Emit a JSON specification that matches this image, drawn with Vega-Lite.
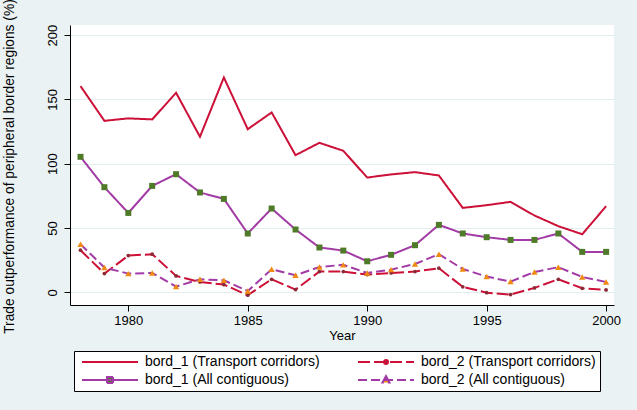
{
  "$schema": "https://vega.github.io/schema/vega-lite/v6.json",
  "width": 544,
  "height": 280,
  "autosize": {"type": "none"},
  "padding": {"left": 70, "top": 25, "right": 23, "bottom": 105},
  "background": "#eaf2f3",
  "config": {"view": {"fill": "white", "stroke": null}, "font": "Liberation Sans"},
  "data": {"values": [
    {"year":1978,"series":"bord_1 (Transport corridors)","value":160.3},
    {"year":1979,"series":"bord_1 (Transport corridors)","value":133.3},
    {"year":1980,"series":"bord_1 (Transport corridors)","value":135.2},
    {"year":1981,"series":"bord_1 (Transport corridors)","value":134.4},
    {"year":1982,"series":"bord_1 (Transport corridors)","value":155.1},
    {"year":1983,"series":"bord_1 (Transport corridors)","value":120.9},
    {"year":1984,"series":"bord_1 (Transport corridors)","value":167.0},
    {"year":1985,"series":"bord_1 (Transport corridors)","value":126.8},
    {"year":1986,"series":"bord_1 (Transport corridors)","value":139.8},
    {"year":1987,"series":"bord_1 (Transport corridors)","value":106.6},
    {"year":1988,"series":"bord_1 (Transport corridors)","value":116.2},
    {"year":1989,"series":"bord_1 (Transport corridors)","value":110.0},
    {"year":1990,"series":"bord_1 (Transport corridors)","value":89.2},
    {"year":1991,"series":"bord_1 (Transport corridors)","value":91.6},
    {"year":1992,"series":"bord_1 (Transport corridors)","value":93.4},
    {"year":1993,"series":"bord_1 (Transport corridors)","value":90.8},
    {"year":1994,"series":"bord_1 (Transport corridors)","value":65.6},
    {"year":1995,"series":"bord_1 (Transport corridors)","value":67.7},
    {"year":1996,"series":"bord_1 (Transport corridors)","value":70.3},
    {"year":1997,"series":"bord_1 (Transport corridors)","value":59.7},
    {"year":1998,"series":"bord_1 (Transport corridors)","value":51.4},
    {"year":1999,"series":"bord_1 (Transport corridors)","value":45.1},
    {"year":2000,"series":"bord_1 (Transport corridors)","value":66.9},
    {"year":1978,"series":"bord_2 (Transport corridors)","value":32.7},
    {"year":1979,"series":"bord_2 (Transport corridors)","value":14.5},
    {"year":1980,"series":"bord_2 (Transport corridors)","value":28.5},
    {"year":1981,"series":"bord_2 (Transport corridors)","value":29.6},
    {"year":1982,"series":"bord_2 (Transport corridors)","value":12.7},
    {"year":1983,"series":"bord_2 (Transport corridors)","value":8.0},
    {"year":1984,"series":"bord_2 (Transport corridors)","value":6.0},
    {"year":1985,"series":"bord_2 (Transport corridors)","value":-2.3},
    {"year":1986,"series":"bord_2 (Transport corridors)","value":10.1},
    {"year":1987,"series":"bord_2 (Transport corridors)","value":2.1},
    {"year":1988,"series":"bord_2 (Transport corridors)","value":16.1},
    {"year":1989,"series":"bord_2 (Transport corridors)","value":16.1},
    {"year":1990,"series":"bord_2 (Transport corridors)","value":13.8},
    {"year":1991,"series":"bord_2 (Transport corridors)","value":15.0},
    {"year":1992,"series":"bord_2 (Transport corridors)","value":16.1},
    {"year":1993,"series":"bord_2 (Transport corridors)","value":18.7},
    {"year":1994,"series":"bord_2 (Transport corridors)","value":4.2},
    {"year":1995,"series":"bord_2 (Transport corridors)","value":-0.3},
    {"year":1996,"series":"bord_2 (Transport corridors)","value":-1.8},
    {"year":1997,"series":"bord_2 (Transport corridors)","value":3.4},
    {"year":1998,"series":"bord_2 (Transport corridors)","value":10.1},
    {"year":1999,"series":"bord_2 (Transport corridors)","value":3.1},
    {"year":2000,"series":"bord_2 (Transport corridors)","value":1.8},
    {"year":1978,"series":"bord_1 (All contiguous)","value":105.3},
    {"year":1979,"series":"bord_1 (All contiguous)","value":81.7},
    {"year":1980,"series":"bord_1 (All contiguous)","value":61.7},
    {"year":1981,"series":"bord_1 (All contiguous)","value":82.7},
    {"year":1982,"series":"bord_1 (All contiguous)","value":91.8},
    {"year":1983,"series":"bord_1 (All contiguous)","value":77.6},
    {"year":1984,"series":"bord_1 (All contiguous)","value":72.6},
    {"year":1985,"series":"bord_1 (All contiguous)","value":45.7},
    {"year":1986,"series":"bord_1 (All contiguous)","value":65.1},
    {"year":1987,"series":"bord_1 (All contiguous)","value":48.8},
    {"year":1988,"series":"bord_1 (All contiguous)","value":34.8},
    {"year":1989,"series":"bord_1 (All contiguous)","value":32.4},
    {"year":1990,"series":"bord_1 (All contiguous)","value":24.1},
    {"year":1991,"series":"bord_1 (All contiguous)","value":29.1},
    {"year":1992,"series":"bord_1 (All contiguous)","value":36.6},
    {"year":1993,"series":"bord_1 (All contiguous)","value":52.4},
    {"year":1994,"series":"bord_1 (All contiguous)","value":45.7},
    {"year":1995,"series":"bord_1 (All contiguous)","value":42.8},
    {"year":1996,"series":"bord_1 (All contiguous)","value":40.7},
    {"year":1997,"series":"bord_1 (All contiguous)","value":40.7},
    {"year":1998,"series":"bord_1 (All contiguous)","value":45.7},
    {"year":1999,"series":"bord_1 (All contiguous)","value":31.4},
    {"year":2000,"series":"bord_1 (All contiguous)","value":31.4},
    {"year":1978,"series":"bord_2 (All contiguous)","value":37.4},
    {"year":1979,"series":"bord_2 (All contiguous)","value":19.2},
    {"year":1980,"series":"bord_2 (All contiguous)","value":14.5},
    {"year":1981,"series":"bord_2 (All contiguous)","value":15.0},
    {"year":1982,"series":"bord_2 (All contiguous)","value":4.4},
    {"year":1983,"series":"bord_2 (All contiguous)","value":10.1},
    {"year":1984,"series":"bord_2 (All contiguous)","value":9.3},
    {"year":1985,"series":"bord_2 (All contiguous)","value":1.0},
    {"year":1986,"series":"bord_2 (All contiguous)","value":17.9},
    {"year":1987,"series":"bord_2 (All contiguous)","value":13.2},
    {"year":1988,"series":"bord_2 (All contiguous)","value":19.7},
    {"year":1989,"series":"bord_2 (All contiguous)","value":21.3},
    {"year":1990,"series":"bord_2 (All contiguous)","value":15.0},
    {"year":1991,"series":"bord_2 (All contiguous)","value":17.6},
    {"year":1992,"series":"bord_2 (All contiguous)","value":22.0},
    {"year":1993,"series":"bord_2 (All contiguous)","value":29.6},
    {"year":1994,"series":"bord_2 (All contiguous)","value":18.1},
    {"year":1995,"series":"bord_2 (All contiguous)","value":12.2},
    {"year":1996,"series":"bord_2 (All contiguous)","value":8.3},
    {"year":1997,"series":"bord_2 (All contiguous)","value":15.8},
    {"year":1998,"series":"bord_2 (All contiguous)","value":19.5},
    {"year":1999,"series":"bord_2 (All contiguous)","value":11.9},
    {"year":2000,"series":"bord_2 (All contiguous)","value":8.0}
  ]},
  "encoding": {
    "x": {
      "field": "year", "type": "quantitative",
      "scale": {"domain": [1977.56, 2000.33], "nice": false, "zero": false},
      "axis": {
        "values": [1980, 1985, 1990, 1995, 2000], "format": "d", "title": "Year",
        "grid": false, "labelFlush": false, "labelFontSize": 13, "titleFontSize": 13,
        "titleFontWeight": "normal", "tickSize": 6, "labelPadding": 3,
        "domainColor": "#000", "tickColor": "#000", "labelColor": "#000", "titleColor": "#000",
        "titleY": 30, "titleBaseline": "middle"
      }
    },
    "y": {
      "field": "value", "type": "quantitative",
      "scale": {"domain": [-9.9, 207.8], "nice": false, "zero": false},
      "axis": {
        "values": [0, 50, 100, 150, 200],
        "title": "Trade outperformance of peripheral border regions (%)",
        "grid": true, "gridColor": "#e3eeef", "labelAngle": 270, "labelAlign": "center",
        "labelBaseline": "middle", "labelPadding": 12, "tickSize": 6, "labelFontSize": 13,
        "titleFontSize": 13.8, "titleFontWeight": "normal", "titleAngle": 270,
        "titleX": -61, "titleY": 141, "titleAlign": "center", "titleBaseline": "middle",
        "domainColor": "#000", "tickColor": "#000", "labelColor": "#000", "titleColor": "#000"
      }
    }
  },
  "layer": [
    {
      "mark": {"type": "line", "strokeJoin": "miter"},
      "encoding": {
        "color": {
          "field": "series", "type": "nominal",
          "scale": {
            "domain": ["bord_1 (Transport corridors)", "bord_2 (Transport corridors)", "bord_1 (All contiguous)", "bord_2 (All contiguous)"],
            "range": ["#cc1037", "#cc1037", "#a23ba6", "#a23ba6"]
          },
          "legend": {
            "orient": "none", "legendX": 4, "legendY": 326, "title": null,
            "direction": "horizontal",
            "columns": 2, "columnPadding": 34, "rowPadding": 3, "padding": 4,
            "strokeColor": "#000", "fillColor": "#fff", "symbolSize": 100,
            "labelOffset": 53, "labelFontSize": 14, "labelFont": "Liberation Sans",
            "labelColor": "#000", "labelLimit": 400,
            "encode": {
              "symbols": {
                "update": {
                  "shape": {"signal": "datum.value === 'bord_1 (Transport corridors)' ? 'M-0.6,0H10.6' : datum.value === 'bord_2 (Transport corridors)' ? 'M-0.6,0H10.6M4.6,0A0.4,0.4 0 1,0 5.4,0A0.4,0.4 0 1,0 4.6,0Z' : datum.value === 'bord_1 (All contiguous)' ? 'M-0.6,0H10.6M4.4,-0.6H5.6V0.6H4.4Z' : 'M-0.6,0H10.6M5,-0.8L5.7,0.5H4.3Z'"},
                  "fill": {"signal": "datum.value === 'bord_1 (Transport corridors)' ? 'transparent' : datum.value === 'bord_2 (Transport corridors)' ? '#8b2a35' : datum.value === 'bord_1 (All contiguous)' ? '#4f7a28' : '#f08a10'"},
                  "strokeWidth": {"signal": "indexof(datum.value, 'Transport') >= 0 ? 2 : 1.2"}
                }
              }
            }
          }
        },
        "strokeDash": {
          "field": "series", "type": "nominal",
          "scale": {
            "domain": ["bord_1 (Transport corridors)", "bord_2 (Transport corridors)", "bord_1 (All contiguous)", "bord_2 (All contiguous)"],
            "range": [[1, 0], [12, 4], [1, 0], [9, 4]]
          }
        },
        "strokeWidth": {
          "field": "series", "type": "nominal",
          "scale": {
            "domain": ["bord_1 (Transport corridors)", "bord_2 (Transport corridors)", "bord_1 (All contiguous)", "bord_2 (All contiguous)"],
            "range": [2, 2, 1.2, 1.2]
          },
          "legend": null
        }
      }
    },
    {
      "transform": [{"filter": "datum.series === 'bord_2 (Transport corridors)'"}],
      "mark": {"type": "point", "shape": "circle", "filled": true, "size": 14, "color": "#8b2a35", "opacity": 1}
    },
    {
      "transform": [{"filter": "datum.series === 'bord_1 (All contiguous)'"}],
      "mark": {"type": "point", "shape": "square", "filled": true, "size": 36, "color": "#4f7a28", "opacity": 1}
    },
    {
      "transform": [{"filter": "datum.series === 'bord_2 (All contiguous)'"}],
      "mark": {"type": "point", "shape": "triangle-up", "filled": true, "size": 40, "color": "#f08a10", "opacity": 1}
    }
  ]
}
